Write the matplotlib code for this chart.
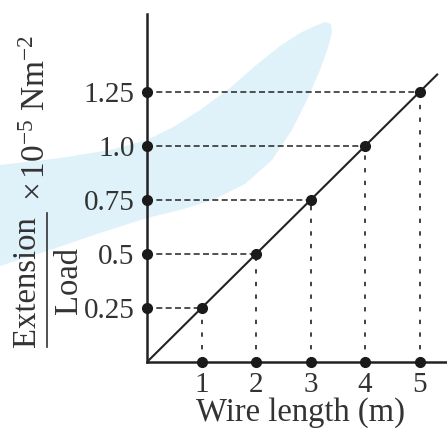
import matplotlib.pyplot as plt
from matplotlib.patches import Polygon

# data
wire_length = [1, 2, 3, 4, 5]
ratio = [0.25, 0.5, 0.75, 1.0, 1.25]
y_tick_labels = ["0.25", "0.5", "0.75", "1.0", "1.25"]
x_tick_labels = ["1", "2", "3", "4", "5"]
line_end = 5.32

plt.rcParams['font.family'] = ['Liberation Serif', 'DejaVu Serif']
plt.rcParams['mathtext.fontset'] = 'custom'
plt.rcParams['mathtext.rm'] = 'Liberation Serif'
plt.rcParams['mathtext.it'] = 'Liberation Serif:italic'

W, H = 447, 428
fig = plt.figure(figsize=(W / 100, H / 100), dpi=100)
txt = '#333333'

def fp(x, y):
    # pixel (from top-left) -> figure fraction
    return (x / W, 1 - y / H)

# light blue watermark swoosh in the background
outline = [(0, 165), (60, 158), (110, 150), (147, 140), (175, 126), (200, 110),
           (230, 88), (255, 66), (280, 46), (300, 33), (315, 26), (325, 22),
           (331, 24), (332, 32), (328, 48), (320, 70), (307, 100), (292, 130),
           (272, 160), (245, 184), (213, 200), (180, 210), (147, 218), (100, 233),
           (50, 250), (0, 266)]
fig.patches.append(Polygon([fp(x, y) for x, y in outline], closed=True,
                           transform=fig.transFigure, facecolor='#e0f2f9',
                           edgecolor='none', zorder=-1))

ax = fig.add_axes([147 / W, 66 / H, 300 / W, 348 / H])
ax.patch.set_alpha(0)
ax.set_xlim(0, 5.5)
ax.set_ylim(0, 1.61)

ax.plot([0, line_end], [0, line_end * 0.25], color='#222222', lw=1.5, zorder=3)

for x, y in zip(wire_length, ratio):
    ax.plot([0, x], [y, y], ls=(0, (3.6, 2.0)), color='#333333', lw=1.2, zorder=2)
    ax.plot([x, x], [0, y], ls=(0, (2.4, 4.6)), color='#333333', lw=1.3, zorder=2)

ax.plot(wire_length, ratio, 'o', color='#1a1a1a', ms=7, clip_on=False, zorder=4)
ax.plot([0] * 5, ratio, 'o', color='#1a1a1a', ms=7, clip_on=False, zorder=4)
ax.plot(wire_length, [0] * 5, 'o', color='#1a1a1a', ms=7, clip_on=False, zorder=4)

for s in ['top', 'right']:
    ax.spines[s].set_visible(False)
for s in ['left', 'bottom']:
    ax.spines[s].set_linewidth(1.8)
    ax.spines[s].set_color('#222222')

ax.set_xticks(wire_length)
ax.set_xticklabels(x_tick_labels)
ax.set_yticks(ratio)
ax.set_yticklabels(y_tick_labels)
ax.tick_params(length=0, labelsize=21, colors=txt)
ax.tick_params(axis='y', pad=9)
ax.tick_params(axis='x', pad=7)

# x label placed under the tick numbers, partly cut by the bottom edge
fig.text(*fp(300, 421), "Wire length (m)", fontsize=23.5, color=txt,
         ha='center', va='baseline')

# y label: fraction Extension / Load then the unit
fig.text(*fp(27, 282), "Extension", fontsize=23.5, color=txt, rotation=90,
         ha='center', va='center')
fig.text(*fp(69, 281), "Load", fontsize=23.5, color=txt, rotation=90,
         ha='center', va='center')
fig.add_artist(plt.Line2D([47 / W, 47 / W], [1 - 347 / H, 1 - 213 / H],
                          transform=fig.transFigure, color=txt, lw=1.2))
fig.text(*fp(37, 118), r"$\times\,10^{-5}\ \mathrm{Nm}^{-2}$", fontsize=24,
         color=txt, rotation=90, ha='center', va='center')

fig.savefig("out.png", dpi=100)
